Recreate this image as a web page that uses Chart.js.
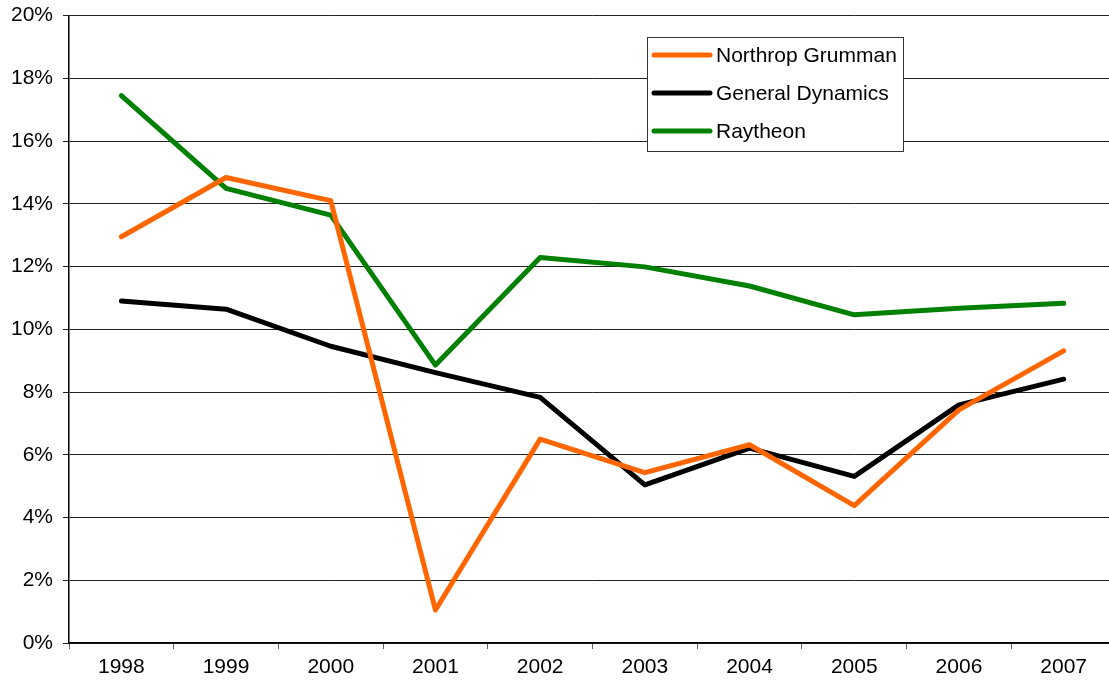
<!DOCTYPE html>
<html>
<head>
<meta charset="utf-8">
<script src="https://cdn.jsdelivr.net/npm/chart.js@4.4.1/dist/chart.umd.min.js"></script>
<style>
  html, body { margin: 0; padding: 0; background: #fff; overflow: hidden; }
  #wrap { width: 1120px; height: 695px; position: relative; margin-top: -7px; }
</style>
</head>
<body>
<div id="wrap"><canvas id="chart"></canvas></div>
<script>
var years = ["1998", "1999", "2000", "2001", "2002", "2003", "2004", "2005", "2006", "2007"]
var northrop = [12.95, 14.84, 14.1, 1.05, 6.5, 5.43, 6.32, 4.38, 7.43, 9.31]
var dynamics = [10.9, 10.64, 9.46, 8.62, 7.83, 5.04, 6.21, 5.31, 7.59, 8.41]
var raytheon = [17.45, 14.49, 13.64, 8.86, 12.29, 11.99, 11.38, 10.46, 10.67, 10.83]
var seriesNames = ["Northrop Grumman", "General Dynamics", "Raytheon"]
var seriesColors = ["#ff6600", "#000000", "#008000"]
var yTicks = [0, 2, 4, 6, 8, 10, 12, 14, 16, 18, 20]

var font = "Liberation Sans, Arial, sans-serif"

// legend drawn as a box inside the plot, like the original
// (canvas is shifted up 7px, so positions here are page y + 7)
var boxLegend = {
    id: "boxLegend",
    afterDraw: function (chart) {
        var c = chart.ctx
        var x = 647, y = 44, w = 256, h = 114
        c.save()
        c.fillStyle = "#fff"
        c.fillRect(x, y, w, h)
        c.strokeStyle = "#333"
        c.lineWidth = 1
        c.strokeRect(x + 0.5, y + 0.5, w, h)
        c.font = "21px " + font
        c.textBaseline = "middle"
        chart.data.datasets.forEach(function (ds, i) {
            var ry = 62 + i * 38
            c.strokeStyle = ds.borderColor
            c.lineWidth = 5
            c.lineCap = "round"
            c.beginPath()
            c.moveTo(654, ry)
            c.lineTo(710, ry)
            c.stroke()
            c.fillStyle = "#000"
            c.fillText(ds.label, 716, ry + 1)
        })
        c.restore()
    }
}

var ctx = document.getElementById("chart")

var chart = new Chart(ctx, {
    type: "line",
    data: {
        labels: years,
        datasets: [northrop, dynamics, raytheon].map(function (d, i) {
            return {
                label: seriesNames[i],
                data: d,
                borderColor: seriesColors[i],
                backgroundColor: seriesColors[i],
                borderWidth: 5,
                borderJoinStyle: "round",
                borderCapStyle: "round",
                pointRadius: 0,
                tension: 0,
                fill: false
            }
        })
    },
    options: {
        responsive: true,
        maintainAspectRatio: false,
        animation: false,
        layout: { padding: { top: 8, right: 4, left: 0, bottom: 0 } },
        plugins: {
            legend: { display: false },
            tooltip: { enabled: false }
        },
        scales: {
            x: {
                offset: true,
                grid: {
                    offset: true,
                    drawOnChartArea: false,
                    color: "#666",
                    tickLength: 6
                },
                border: { color: "#000", width: 1.5 },
                ticks: {
                    color: "#000",
                    font: { family: font, size: 21 },
                    padding: 6,
                    maxRotation: 0
                },
                afterFit: function (s) { s.height = 45 }
            },
            y: {
                min: 0,
                max: 20,
                afterBuildTicks: function (s) {
                    s.ticks = yTicks.map(function (v) { return { value: v } })
                },
                grid: {
                    color: "#222",
                    lineWidth: 1,
                    tickLength: 6
                },
                border: { color: "#000", width: 1.5 },
                ticks: {
                    color: "#000",
                    font: { family: font, size: 21 },
                    padding: 10,
                    callback: function (v) { return v + "%" }
                },
                afterFit: function (s) { s.width = 69 }
            }
        }
    },
    plugins: [boxLegend]
})
</script>
</body>
</html>
